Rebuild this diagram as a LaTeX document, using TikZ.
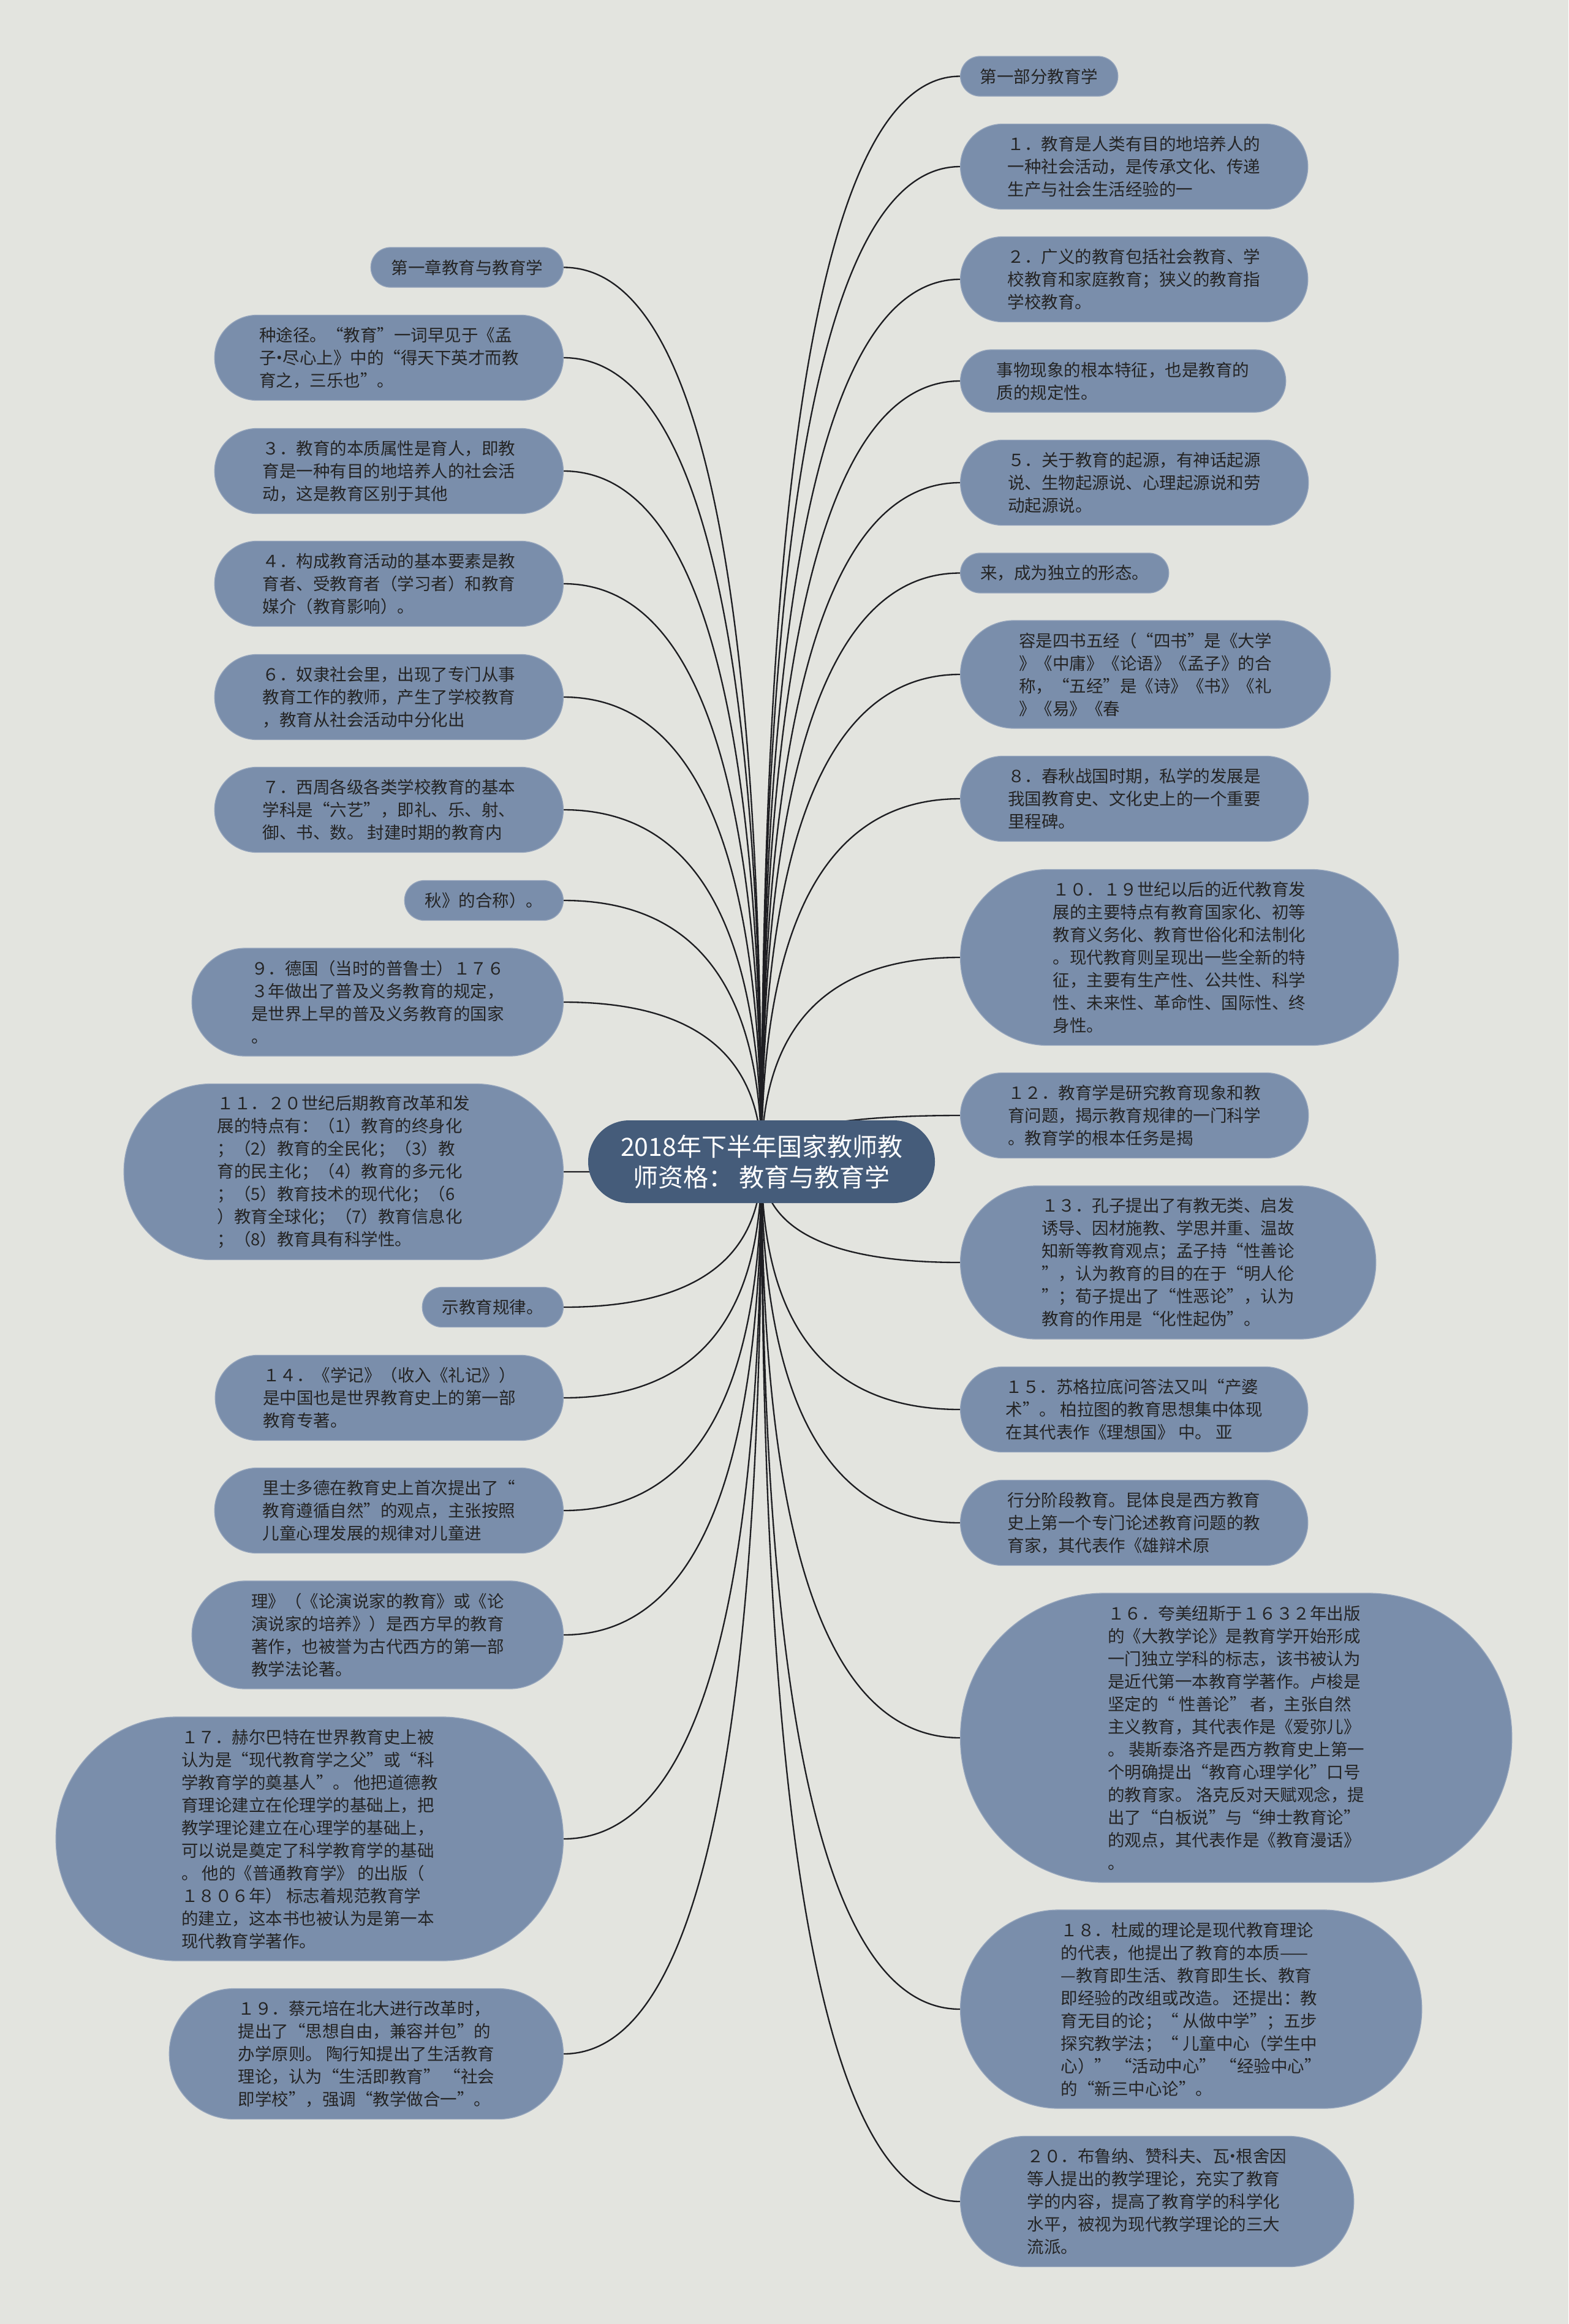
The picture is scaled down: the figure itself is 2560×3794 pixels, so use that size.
\documentclass[tikz,border=0pt]{standalone}
\usepackage{fontspec}
\setmainfont{Noto Sans CJK SC}
\usetikzlibrary{calc}
\definecolor{bgc}{HTML}{E3E4DF}
\definecolor{leaff}{HTML}{7A8EAB}
\definecolor{leafd}{HTML}{93A3BB}
\definecolor{rootf}{HTML}{455C7A}
\definecolor{txt}{HTML}{242424}
\definecolor{linkc}{HTML}{1E1E22}
\pgfdeclarelayer{bg}
\pgfsetlayers{bg,main}
\newcommand\lnk[2]{\draw[link] (c.center) .. controls ($(c.center)!0.6667!(c.center |- #1.#2)$) and ($(#1.#2)!0.6667!(c.center |- #1.#2)$) .. (#1.#2);}
\newcommand\mdot{\kern-0.3em·\kern-0.3em}
\begin{document}
\begin{tikzpicture}[x=0.3pt,y=-0.3pt,
 leaf/.style={fill=leaff, draw=leafd, line width=0.4pt, text=txt, align=left, inner sep=0pt, font=\fontsize{8.25}{11.1}\selectfont},
 sz/.style 2 args={minimum width=#1*0.3pt, minimum height=#2*0.3pt, rounded corners=#2*0.149pt},
 rt/.style={leaf, anchor=west},
 lf/.style={leaf, anchor=east},
 root/.style={fill=rootf, text=white, align=center, inner sep=0pt, font=\fontsize{12.3}{15}\selectfont},
 link/.style={draw=linkc, line width=0.7pt}]
\useasboundingbox (0,0) rectangle (2560,3794);

\node[root, sz={566}{135}] (c) at (1243,1896.5) {2018年下半年国家教师教\\师资格：\ 教育与教育学};

% right column
\node[rt, sz={257}{65}] (r1) at (1567,124.5) {第一部分教育学};
\node[rt, sz={567}{139}] (r2) at (1567,272) {１．教育是人类有目的地培养人的\\一种社会活动，是传承文化、传递\\生产与社会生活经验的一};
\node[rt, sz={567}{139}] (r3) at (1567,456) {２．广义的教育包括社会教育、学\\校教育和家庭教育；狭义的教育指\\学校教育。};
\node[rt, sz={531}{102}] (r4) at (1567,622) {事物现象的根本特征，也是教育的\\质的规定性。};
\node[rt, sz={568}{139}] (r5) at (1567,788) {５．关于教育的起源，有神话起源\\说、生物起源说、心理起源说和劳\\动起源说。};
\node[rt, sz={340}{65}] (r6) at (1567,935.5) {来，成为独立的形态。};
\node[rt, sz={604}{176}] (r7) at (1567,1101) {容是四书五经（“四书”是《大学\\》《中庸》《论语》《孟子》的合\\称，“五经”是《诗》《书》《礼\\》《易》《春};
\node[rt, sz={568}{139}] (r8) at (1567,1304) {８．春秋战国时期，私学的发展是\\我国教育史、文化史上的一个重要\\里程碑。};
\node[rt, sz={715}{287}] (r9) at (1567,1563) {１０．１９世纪以后的近代教育发\\展的主要特点有教育国家化、初等\\教育义务化、教育世俗化和法制化\\。现代教育则呈现出一些全新的特\\征，主要有生产性、公共性、科学\\性、未来性、革命性、国际性、终\\身性。};
\node[rt, sz={568}{139}] (r10) at (1567,1821) {１２．教育学是研究教育现象和教\\育问题，揭示教育规律的一门科学\\。教育学的根本任务是揭};
\node[rt, sz={678}{250}] (r11) at (1567,2061) {１３．孔子提出了有教无类、启发\\诱导、因材施教、学思并重、温故\\知新等教育观点；孟子持“性善论\\”，认为教育的目的在于“明人伦\\”；荀子提出了“性恶论”，认为\\教育的作用是“化性起伪”。};
\node[rt, sz={567}{139}] (r12) at (1567,2301) {１５．苏格拉底问答法又叫“产婆\\术”。 柏拉图的教育思想集中体现\\在其代表作《理想国》 中。 亚};
\node[rt, sz={567}{139}] (r13) at (1567,2486) {行分阶段教育。昆体良是西方教育\\史上第一个专门论述教育问题的教\\育家，其代表作《雄辩术原};
\node[rt, sz={900}{472}] (r14) at (1567,2837) {１６．夸美纽斯于１６３２年出版\\的《大教学论》是教育学开始形成\\一门独立学科的标志，该书被认为\\是近代第一本教育学著作。卢梭是\\坚定的“ 性善论” 者，主张自然\\主义教育，其代表作是《爱弥儿》\\。 裴斯泰洛齐是西方教育史上第一\\个明确提出“教育心理学化”口号\\的教育家。 洛克反对天赋观念，提\\出了“白板说”与“绅士教育论”\\的观点，其代表作是《教育漫话》\\。};
\node[rt, sz={753}{324}] (r15) at (1567,3280) {１８．杜威的理论是现代教育理论\\的代表，他提出了教育的本质——\\—教育即生活、教育即生长、教育\\即经验的改组或改造。 还提出：教\\育无目的论；“ 从做中学”；五步\\探究教学法；“ 儿童中心（学生中\\心）” “活动中心” “经验中心”\\的“新三中心论”。};
\node[rt, sz={642}{213}] (r16) at (1567,3594) {２０．布鲁纳、赞科夫、瓦\mdot 根舍因\\等人提出的教学理论，充实了教育\\学的内容，提高了教育学的科学化\\水平，被视为现代教学理论的三大\\流派。};

% left column
\node[lf, sz={314}{65}] (l1) at (920,436.5) {第一章教育与教育学};
\node[lf, sz={569}{139}] (l2) at (920,584) {种途径。“教育”一词早见于《孟\\子\mdot 尽心上》中的“得天下英才而教\\育之，三乐也”。};
\node[lf, sz={569}{139}] (l3) at (920,769) {３．教育的本质属性是育人，即教\\育是一种有目的地培养人的社会活\\动，这是教育区别于其他};
\node[lf, sz={569}{139}] (l4) at (920,953) {４．构成教育活动的基本要素是教\\育者、受教育者（学习者）和教育\\媒介（教育影响）。};
\node[lf, sz={569}{139}] (l5) at (920,1138) {６．奴隶社会里，出现了专门从事\\教育工作的教师，产生了学校教育\\，教育从社会活动中分化出};
\node[lf, sz={569}{139}] (l6) at (920,1322) {７．西周各级各类学校教育的基本\\学科是“六艺”，即礼、乐、射、\\御、书、数。 封建时期的教育内};
\node[lf, sz={259}{65}] (l7) at (920,1470) {秋》的合称）。};
\node[lf, sz={606}{176}] (l8) at (920,1636) {９．德国（当时的普鲁士）１７６\\３年做出了普及义务教育的规定，\\是世界上早的普及义务教育的国家\\。};
\node[lf, sz={717}{287}] (l9) at (920,1913) {１１．２０世纪后期教育改革和发\\展的特点有：（1）教育的终身化\\；（2）教育的全民化；（3）教\\育的民主化；（4）教育的多元化\\；（5）教育技术的现代化；（6\\）教育全球化；（7）教育信息化\\；（8）教育具有科学性。};
\node[lf, sz={230}{65}] (l10) at (920,2134) {示教育规律。};
\node[lf, sz={568}{139}] (l11) at (920,2282) {１４．《学记》（收入《礼记》）\\是中国也是世界教育史上的第一部\\教育专著。};
\node[lf, sz={569}{139}] (l12) at (920,2466) {里士多德在教育史上首次提出了“\\教育遵循自然”的观点，主张按照\\儿童心理发展的规律对儿童进};
\node[lf, sz={606}{176}] (l13) at (920,2669) {理》（《论演说家的教育》或《论\\演说家的培养》）是西方早的教育\\著作，也被誉为古代西方的第一部\\教学法论著。};
\node[lf, sz={828}{398}] (l14) at (920,3002) {１７．赫尔巴特在世界教育史上被\\认为是“现代教育学之父”或“科\\学教育学的奠基人”。 他把道德教\\育理论建立在伦理学的基础上，把\\教学理论建立在心理学的基础上，\\可以说是奠定了科学教育学的基础\\。 他的《普通教育学》 的出版（\\１８０６年） 标志着规范教育学\\的建立，这本书也被认为是第一本\\现代教育学著作。};
\node[lf, sz={643}{213}] (l15) at (920,3353) {１９．蔡元培在北大进行改革时，\\提出了“思想自由，兼容并包”的\\办学原则。 陶行知提出了生活教育\\理论，认为“生活即教育” “社会\\即学校”，强调“教学做合一”。};

\begin{pgfonlayer}{bg}
\fill[bgc] (0,0) rectangle (2560,3794);
\foreach \n in {r1,r2,r3,r4,r5,r6,r7,r8,r9,r10,r11,r12,r13,r14,r15,r16}{\lnk{\n}{west}}
\foreach \n in {l1,l2,l3,l4,l5,l6,l7,l8,l9,l10,l11,l12,l13,l14,l15}{\lnk{\n}{east}}
\end{pgfonlayer}
\end{tikzpicture}
\end{document}
